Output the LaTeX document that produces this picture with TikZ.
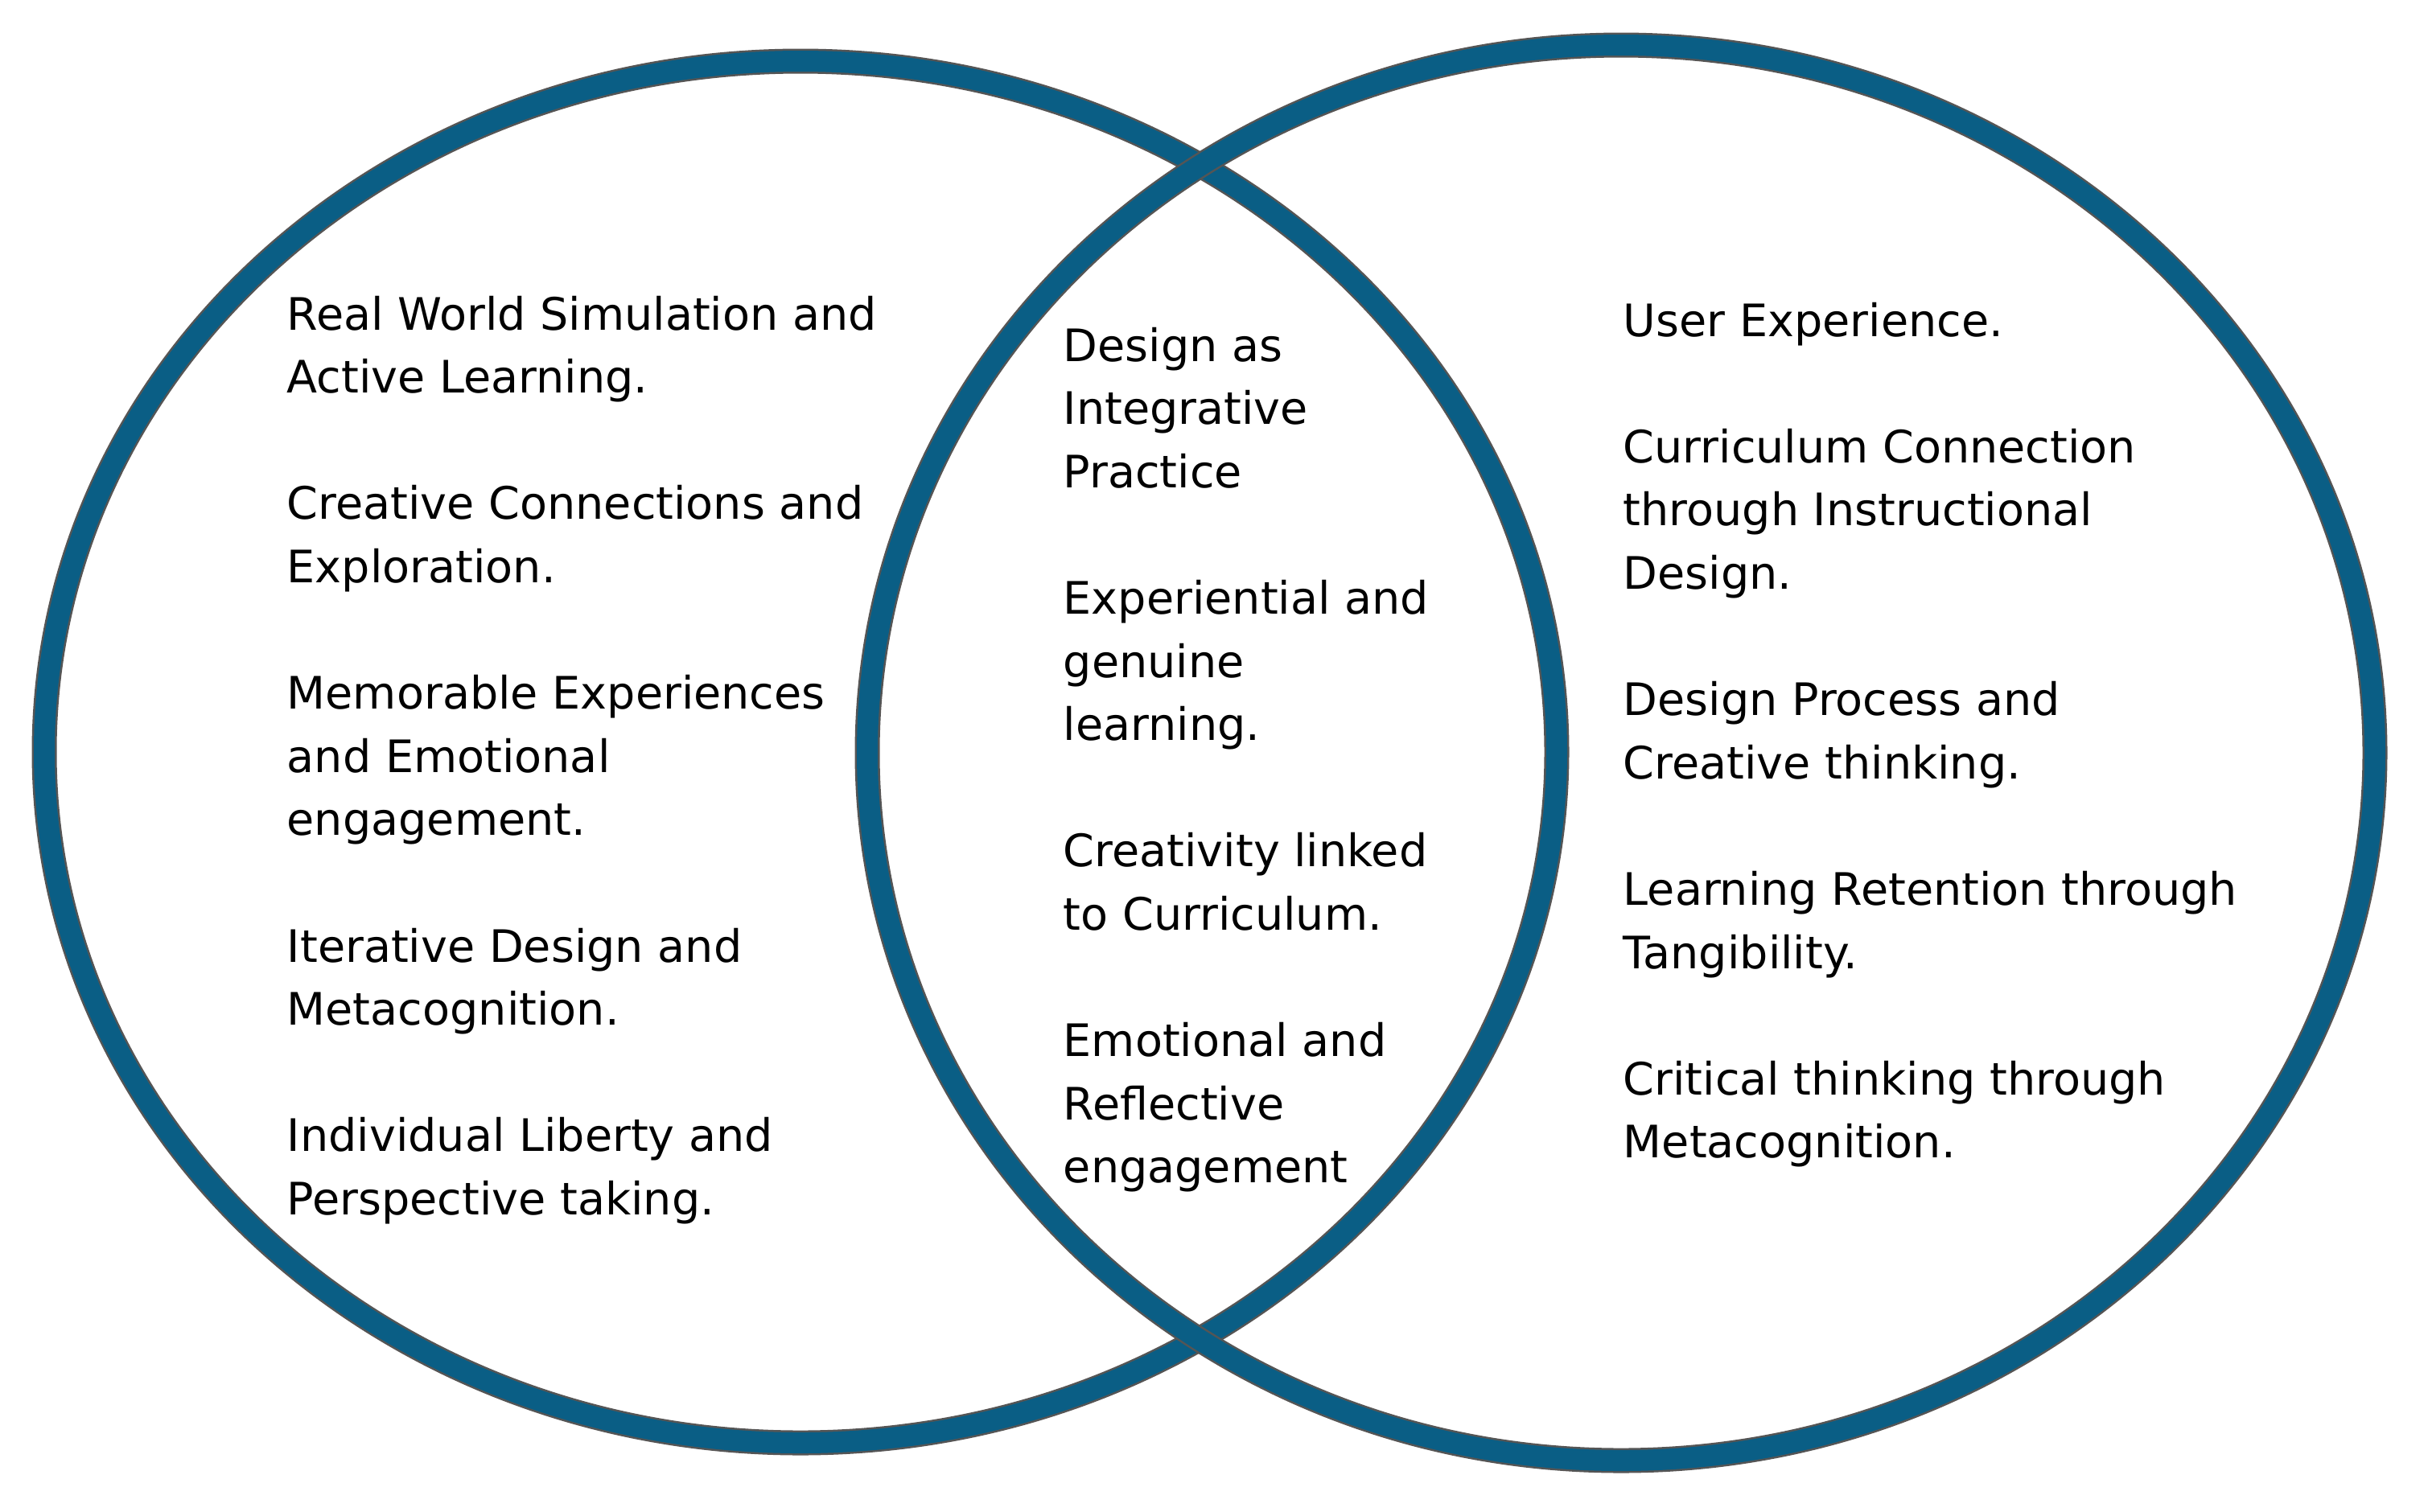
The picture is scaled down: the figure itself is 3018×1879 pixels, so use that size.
\documentclass[tikz,border=0pt]{standalone}
\usepackage{fontspec}
\setmainfont{DejaVu Sans}
\definecolor{ringteal}{RGB}{10,94,133}
\definecolor{ringgrey}{RGB}{85,85,85}
\tikzset{
  ringout/.style={draw=ringgrey,line width=7.75pt},
  ringin/.style={draw=ringteal,line width=6.5pt},
  txt/.style={anchor=base west,inner sep=0pt,text=black,font=\fontsize{13.9pt}{19.7pt}\selectfont}
}
\begin{document}
\begin{tikzpicture}[x=0.25pt,y=-0.25pt]
\useasboundingbox (0,0) rectangle (3018,1879);
\fill[white] (0,0) rectangle (3018,1879);
% circles
\draw[ringout] (995,935) ellipse [x radius=235pt, y radius=214.75pt];
\draw[ringin]  (995,935) ellipse [x radius=235pt, y radius=214.75pt];
\draw[ringout] (2015,936) ellipse [x radius=234.25pt, y radius=220pt];
\draw[ringin]  (2015,936) ellipse [x radius=234.25pt, y radius=220pt];
% left column
\def\ly#1{410+#1*78.6}
\node[txt] (L1a) at (356,{\ly{0}}) {Real World Simulation and};
\node[txt] (L1b) at (356,{\ly{1}}) {Active Learning.};
\node[txt] (L2a) at (356,{\ly{3}}) {Creative Connections and};
\node[txt] (L2b) at (356,{\ly{4}}) {Exploration.};
\node[txt] (L3a) at (356,{\ly{6}}) {Memorable Experiences};
\node[txt] (L3b) at (356,{\ly{7}}) {and Emotional};
\node[txt] (L3c) at (356,{\ly{8}}) {engagement.};
\node[txt] (L4a) at (356,{\ly{10}}) {Iterative Design and};
\node[txt] (L4b) at (356,{\ly{11}}) {Metacognition.};
\node[txt] (L5a) at (356,{\ly{13}}) {Individual Liberty and};
\node[txt] (L5b) at (356,{\ly{14}}) {Perspective taking.};
% centre column
\def\cy#1{449+#1*78.6}
\node[txt] (C1a) at (1321,{\cy{0}}) {Design as};
\node[txt] (C1b) at (1321,{\cy{1}}) {Integrative};
\node[txt] (C1c) at (1321,{\cy{2}}) {Practice};
\node[txt] (C2a) at (1321,{\cy{4}}) {Experiential and};
\node[txt] (C2b) at (1321,{\cy{5}}) {genuine};
\node[txt] (C2c) at (1321,{\cy{6}}) {learning.};
\node[txt] (C3a) at (1321,{\cy{8}}) {Creativity linked};
\node[txt] (C3b) at (1321,{\cy{9}}) {to Curriculum.};
\node[txt] (C4a) at (1321,{\cy{11}}) {Emotional and};
\node[txt] (C4b) at (1321,{\cy{12}}) {Reflective};
\node[txt] (C4c) at (1321,{\cy{13}}) {engagement};
% right column
\def\ry#1{418+#1*78.6}
\node[txt] (R1a) at (2017,{\ry{0}}) {User Experience.};
\node[txt] (R2a) at (2017,{\ry{2}}) {Curriculum Connection};
\node[txt] (R2b) at (2017,{\ry{3}}) {through Instructional};
\node[txt] (R2c) at (2017,{\ry{4}}) {Design.};
\node[txt] (R3a) at (2017,{\ry{6}}) {Design Process and};
\node[txt] (R3b) at (2017,{\ry{7}}) {Creative thinking.};
\node[txt] (R4a) at (2017,{\ry{9}}) {Learning Retention through};
\node[txt] (R4b) at (2017,{\ry{10}}) {Tangibility.};
\node[txt] (R5a) at (2017,{\ry{12}}) {Critical thinking through};
\node[txt] (R5b) at (2017,{\ry{13}}) {Metacognition.};
\end{tikzpicture}
\end{document}
